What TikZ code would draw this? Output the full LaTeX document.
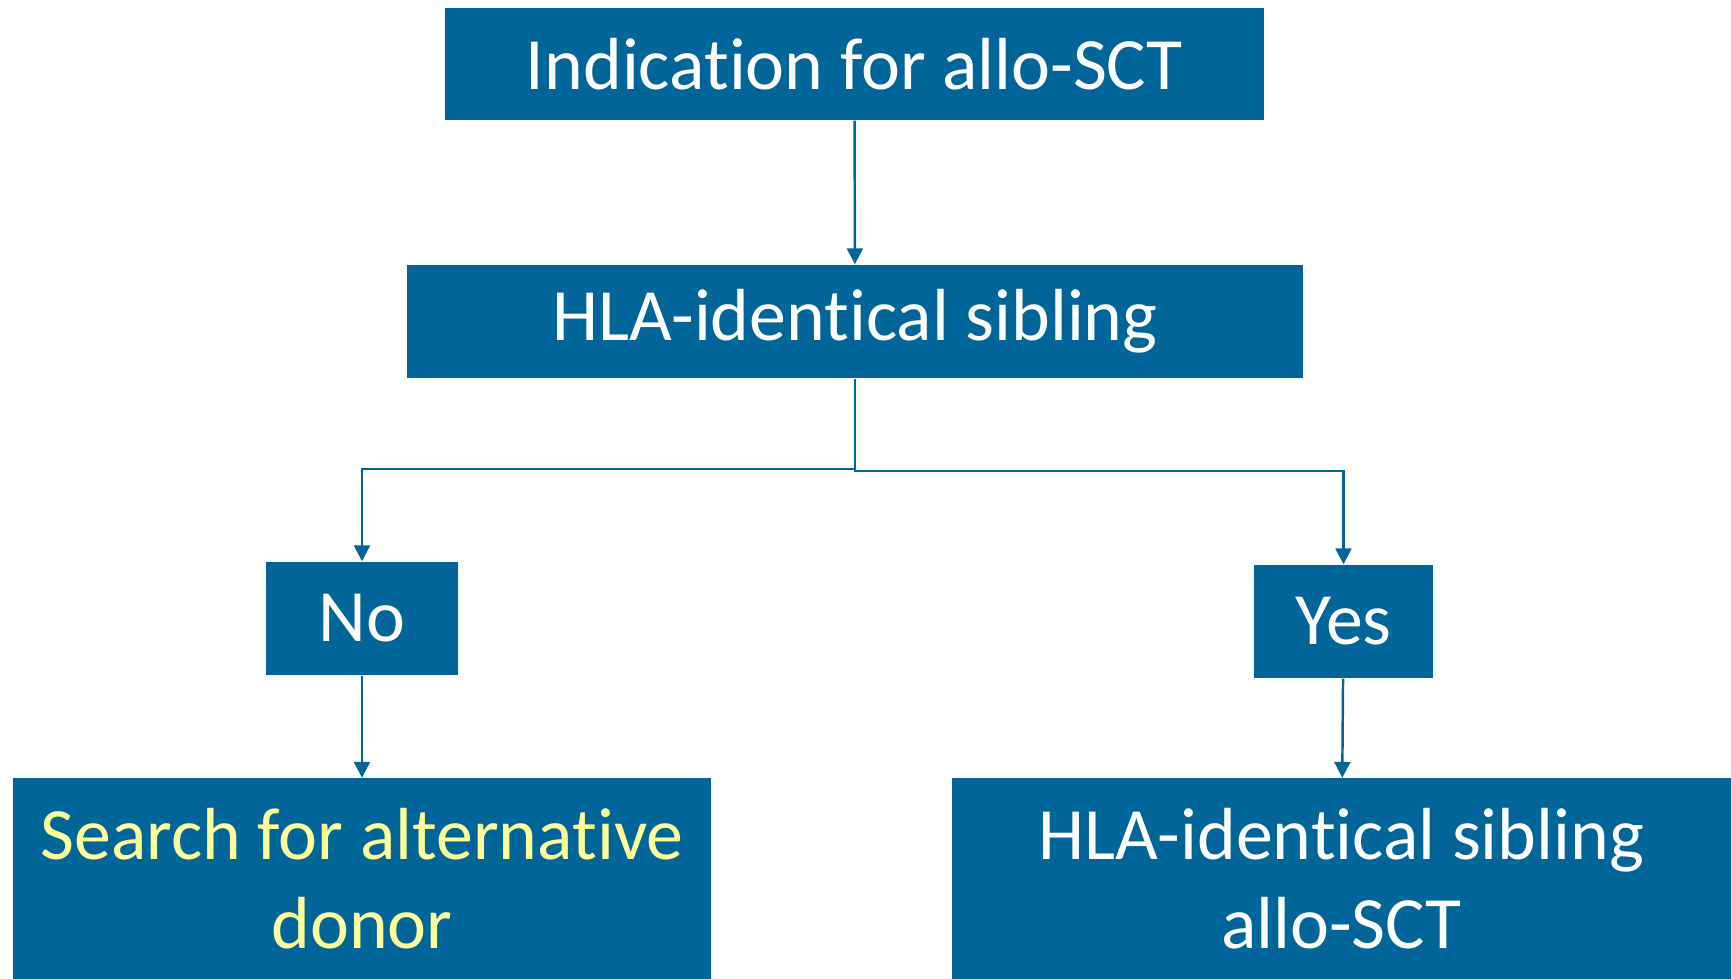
\documentclass[tikz,border=0pt]{standalone}
\usepackage{fontspec}
\setmainfont[Ligatures=NoCommon]{Carlito}
\usepackage{tikz}
\usetikzlibrary{positioning,arrows.meta}
\definecolor{boxblue}{RGB}{0,101,153}
\definecolor{softyellow}{RGB}{255,255,153}

\begin{document}
\begin{tikzpicture}[font=\fontsize{21}{25.5}\selectfont,
  stage/.style={fill=boxblue,text=white,inner sep=0pt,align=center},
  link/.style={draw=boxblue,line width=0.7pt,-{Triangle[length=4.5pt,width=4.5pt]}}]
  \useasboundingbox (0,0) rectangle (17.31,9.78);
  % boxes
  \node[stage,minimum width=8.19cm,minimum height=1.12cm] (indic) at (8.545,9.14) {Indication for allo-SCT};
  \node[stage,minimum width=8.96cm,minimum height=1.13cm] (sib) at (8.55,6.565) {HLA-identical sibling};
  \node[stage,minimum width=1.92cm,minimum height=1.13cm] (no) at (3.62,3.595) {No};
  \node[stage,minimum width=1.79cm,minimum height=1.13cm] (yes) at (13.435,3.565) {Yes};
  \node[stage,text=softyellow,minimum width=6.98cm,minimum height=2.0cm] (search) at (3.62,0.995)
    {Search for alternative\\donor};
  \node[stage,minimum width=7.79cm,minimum height=2.0cm] (sibsct) at (13.415,0.995)
    {HLA-identical sibling\\allo-SCT};
  % split points
  \coordinate (splitL) at (8.55,5.09);
  \coordinate (splitR) at (8.55,5.07);
  % connectors
  \draw[link] (indic) -- (sib);
  \draw[link] (sib.south) -- (splitL) -| (no.north);
  \draw[link] (sib.south) -- (splitR) -| (yes.north);
  \draw[link] (no) -- (search);
  \draw[link] (yes) -- (sibsct);
\end{tikzpicture}
\end{document}
